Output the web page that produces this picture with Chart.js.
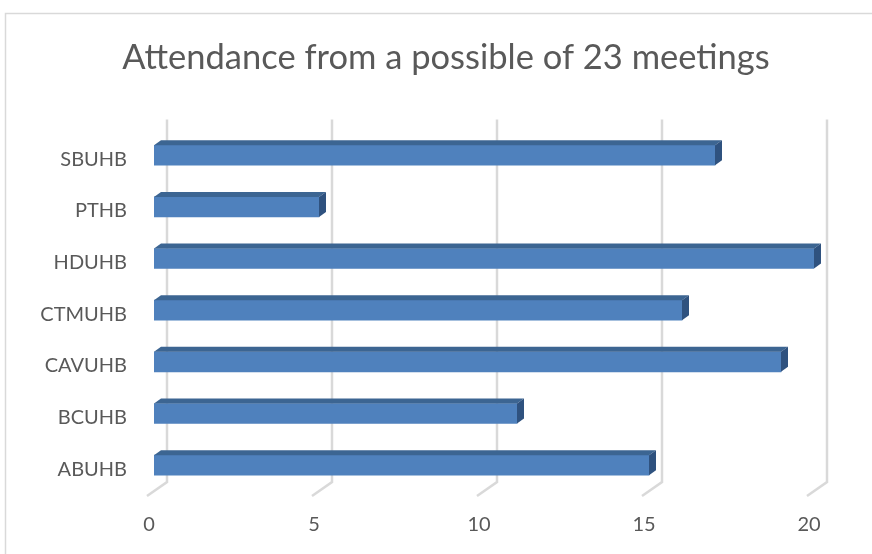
<!DOCTYPE html>
<html>
<head>
<meta charset="utf-8">
<script src="https://cdn.jsdelivr.net/npm/chart.js@4/dist/chart.umd.min.js"></script>
<style>
  html, body { margin: 0; padding: 0; background: #ffffff; }
  #wrap { width: 872px; height: 554px; position: relative; }
</style>
</head>
<body>
<div id="wrap"><canvas id="c" width="872" height="554"></canvas></div>
<script>
const categories = ["SBUHB", "PTHB", "HDUHB", "CTMUHB", "CAVUHB", "BCUHB", "ABUHB"];
const attendance = [17, 5, 20, 16, 19, 11, 15];
const xTicks = [0, 5, 10, 15, 20];
const titleText = "Attendance from a possible of 23 meetings";

const FRONT = "#4F81BD";
const TOP = "#3C6592";
const SIDE = "#2F527F";
const GRID = "#D9D9D9";
const TEXT = "#595959";

const cardBorder = {
  id: "cardBorder",
  afterLayout(chart) {
    // centre the title on the chart card (which extends beyond the right edge)
    const t = chart.titleBlock;
    if (t) { t.left = 0; t.right = 892; t.width = 892; }
  },
  beforeDraw(chart) {
    const ctx = chart.ctx;
    ctx.save();
    ctx.fillStyle = "#ffffff";
    ctx.fillRect(0, 0, chart.width, chart.height);
    ctx.strokeStyle = "#D9D9D9";
    ctx.lineWidth = 1.5;
    ctx.strokeRect(5.5, 13.5, 1000, 1000);
    ctx.restore();
  }
};

const grid3d = {
  id: "grid3d",
  beforeDatasetsDraw(chart) {
    const ctx = chart.ctx;
    const xs = chart.scales.x;
    const a = chart.chartArea;
    ctx.save();
    ctx.strokeStyle = GRID;
    ctx.lineWidth = 2.5;
    xTicks.forEach(v => {
      const xb = xs.getPixelForValue(v) + 13;
      ctx.beginPath();
      ctx.moveTo(xb, a.top - 10);
      ctx.lineTo(xb, a.bottom - 9);
      ctx.lineTo(xb - 20, a.bottom + 5);
      ctx.stroke();
    });
    ctx.restore();
  }
};

const bars3d = {
  id: "bars3d",
  afterDatasetsDraw(chart) {
    const ctx = chart.ctx;
    const meta = chart.getDatasetMeta(0);
    const dx = 7, dy = -5;
    ctx.save();
    meta.data.forEach(bar => {
      const p = bar.getProps(["x", "y", "base", "height"], true);
      const top = p.y - p.height / 2;
      const bottom = p.y + p.height / 2;
      const x0 = p.base, x1 = p.x;
      ctx.fillStyle = TOP;
      ctx.beginPath();
      ctx.moveTo(x0, top);
      ctx.lineTo(x1, top);
      ctx.lineTo(x1 + dx, top + dy);
      ctx.lineTo(x0 + dx, top + dy);
      ctx.closePath();
      ctx.fill();
      ctx.fillStyle = SIDE;
      ctx.beginPath();
      ctx.moveTo(x1, top);
      ctx.lineTo(x1 + dx, top + dy);
      ctx.lineTo(x1 + dx, bottom + dy);
      ctx.lineTo(x1, bottom);
      ctx.closePath();
      ctx.fill();
    });
    ctx.restore();
  }
};

new Chart(document.getElementById("c"), {
  type: "bar",
  data: {
    labels: categories,
    datasets: [{
      data: attendance,
      backgroundColor: FRONT,
      borderWidth: 0,
      barThickness: 20
    }]
  },
  options: {
    indexAxis: "y",
    responsive: false,
    animation: false,
    devicePixelRatio: 1,
    layout: { padding: { top: 10, right: 58, bottom: 0, left: 0 } },
    plugins: {
      legend: { display: false },
      tooltip: { enabled: false },
      title: {
        display: true,
        text: titleText,
        color: TEXT,
        font: { family: "Lato", size: 34.5, weight: "normal" },
        padding: { top: 27, bottom: 51 }
      }
    },
    scales: {
      x: {
        min: 0,
        max: 20,
        afterBuildTicks(scale) { scale.ticks = xTicks.map(v => ({ value: v })); },
        grid: { display: false, drawTicks: false },
        border: { display: false },
        ticks: {
          color: TEXT,
          font: { family: "Lato", size: 20 },
          padding: 22,
          labelOffset: -5
        },
        afterFit(scale) { scale.height = 554 - 491; }
      },
      y: {
        grid: { display: false, drawTicks: false },
        border: { display: false },
        ticks: {
          color: TEXT,
          font: { family: "Lato", size: 20 },
          padding: 27,
          labelOffset: 4
        },
        afterFit(scale) { scale.width = 154; }
      }
    }
  },
  plugins: [cardBorder, grid3d, bars3d]
});
</script>
</body>
</html>
